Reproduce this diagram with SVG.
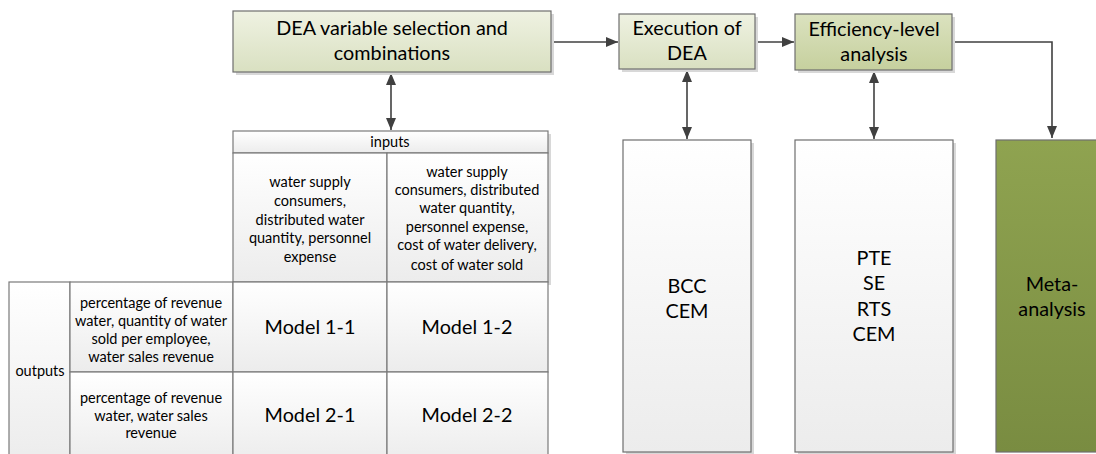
<svg xmlns="http://www.w3.org/2000/svg" width="1096" height="454" viewBox="0 0 1096 454">
<defs>
<linearGradient id="gLight" x1="0" y1="0" x2="0" y2="1"><stop offset="0" stop-color="#eff2e2"/><stop offset="1" stop-color="#d9e0c1"/></linearGradient>
<linearGradient id="gMid" x1="0" y1="0" x2="0" y2="1"><stop offset="0" stop-color="#dbe2bf"/><stop offset="1" stop-color="#c6d09e"/></linearGradient>
<linearGradient id="gGray" x1="0" y1="0" x2="0" y2="1"><stop offset="0" stop-color="#ffffff"/><stop offset="1" stop-color="#ececec"/></linearGradient>
<linearGradient id="gGreen" x1="0" y1="0" x2="0" y2="1"><stop offset="0" stop-color="#8fa350"/><stop offset="1" stop-color="#798c41"/></linearGradient>
<marker id="ah" viewBox="0 0 12 10" refX="12" refY="5" markerWidth="12" markerHeight="10" markerUnits="userSpaceOnUse" orient="auto-start-reverse"><path d="M0,0 L12,5 L0,10 Z" fill="#404040"/></marker>
</defs>
<style>
.box{stroke:#6e6e6e;stroke-width:1.2}
.sh{fill:#d8d8d8}
.t{font-family:Lato,"Liberation Sans",sans-serif;fill:#000;text-anchor:middle}
.big{font-size:19.8px}
.sm{font-size:14.5px}
.md{font-size:19.8px}
.cell{fill:url(#gGray);stroke:#7a7a7a;stroke-width:1.2}
.con{stroke:#404040;stroke-width:1.6;fill:none}
</style>

<g id="connectors">
<line class="con" x1="551" y1="42" x2="618" y2="42" marker-end="url(#ah)"/>
<line class="con" x1="755" y1="42" x2="794" y2="42" marker-end="url(#ah)"/>
<polyline class="con" points="952,42 1052,42 1052,138" marker-end="url(#ah)"/>
<line class="con" x1="391" y1="73" x2="391" y2="130" marker-start="url(#ah)" marker-end="url(#ah)"/>
<line class="con" x1="687" y1="70" x2="687" y2="139" marker-start="url(#ah)" marker-end="url(#ah)"/>
<line class="con" x1="874" y1="71" x2="874" y2="139" marker-start="url(#ah)" marker-end="url(#ah)"/>
</g>

<g id="dea-selection">
<rect class="sh" x="236" y="14" width="318" height="61"/>
<rect class="box" x="233" y="11" width="318" height="61" fill="url(#gLight)"/>
<text class="t big" x="392" y="35">DEA variable selection and</text>
<text class="t big" x="392" y="60">combinations</text>
</g>

<g id="execution">
<rect class="sh" x="622" y="17" width="136" height="55"/>
<rect class="box" x="619" y="14" width="136" height="55" fill="url(#gLight)"/>
<text class="t big" x="687" y="35">Execution of</text>
<text class="t big" x="687" y="60">DEA</text>
</g>

<g id="efficiency">
<rect class="sh" x="798" y="17" width="157" height="56"/>
<rect class="box" x="795" y="14" width="157" height="56" fill="url(#gMid)"/>
<text class="t big" x="874" y="36">Efficiency-level</text>
<text class="t big" x="874" y="61">analysis</text>
</g>

<g id="inputs-table">
<rect class="sh" x="236" y="134" width="315" height="151"/>
<rect class="cell" x="233" y="131" width="315" height="22"/>
<rect class="cell" x="233" y="153" width="154" height="129"/>
<rect class="cell" x="387" y="153" width="161" height="129"/>
<text class="t sm" x="390" y="147">inputs</text>
<text class="t sm" x="310" y="187">water supply</text>
<text class="t sm" x="310" y="206">consumers,</text>
<text class="t sm" x="310" y="225">distributed water</text>
<text class="t sm" x="310" y="243">quantity, personnel</text>
<text class="t sm" x="310" y="262">expense</text>
<text class="t sm" x="467" y="177">water supply</text>
<text class="t sm" x="467" y="195">consumers, distributed</text>
<text class="t sm" x="467" y="213">water quantity,</text>
<text class="t sm" x="467" y="232">personnel expense,</text>
<text class="t sm" x="467" y="250">cost of water delivery,</text>
<text class="t sm" x="467" y="270">cost of water sold</text>
</g>

<g id="outputs-table">
<rect class="cell" x="9" y="282" width="61" height="180"/>
<rect class="cell" x="70" y="282" width="163" height="90"/>
<rect class="cell" x="70" y="372" width="163" height="90"/>
<text class="t sm" x="40" y="376">outputs</text>
<text class="t sm" x="151" y="308">percentage of revenue</text>
<text class="t sm" x="151" y="326">water, quantity of water</text>
<text class="t sm" x="151" y="344">sold per employee,</text>
<text class="t sm" x="151" y="362">water sales revenue</text>
<text class="t sm" x="151" y="403">percentage of revenue</text>
<text class="t sm" x="151" y="421">water, water sales</text>
<text class="t sm" x="151" y="438">revenue</text>
</g>

<g id="models">
<rect class="cell" x="233" y="282" width="154" height="90"/>
<rect class="cell" x="387" y="282" width="161" height="90"/>
<rect class="cell" x="233" y="372" width="154" height="90"/>
<rect class="cell" x="387" y="372" width="161" height="90"/>
<text class="t md" x="310" y="334">Model 1-1</text>
<text class="t md" x="467" y="334">Model 1-2</text>
<text class="t md" x="310" y="422">Model 2-1</text>
<text class="t md" x="467" y="422">Model 2-2</text>
</g>

<g id="bcc-cem">
<rect class="sh" x="626" y="143" width="128" height="312"/>
<rect class="box" x="623" y="140" width="128" height="312" fill="url(#gGray)"/>
<text class="t big" x="687" y="293">BCC</text>
<text class="t big" x="687" y="318">CEM</text>
</g>

<g id="pte-se-rts-cem">
<rect class="sh" x="798" y="143" width="158" height="312"/>
<rect class="box" x="795" y="140" width="158" height="312" fill="url(#gGray)"/>
<text class="t big" x="874" y="265">PTE</text>
<text class="t big" x="874" y="290">SE</text>
<text class="t big" x="874" y="316">RTS</text>
<text class="t big" x="874" y="341">CEM</text>
</g>

<g id="meta-analysis">
<rect class="box" x="996" y="140" width="110" height="312" fill="url(#gGreen)"/>
<text class="t big" x="1052" y="291">Meta-</text>
<text class="t big" x="1052" y="316">analysis</text>
</g>
</svg>
